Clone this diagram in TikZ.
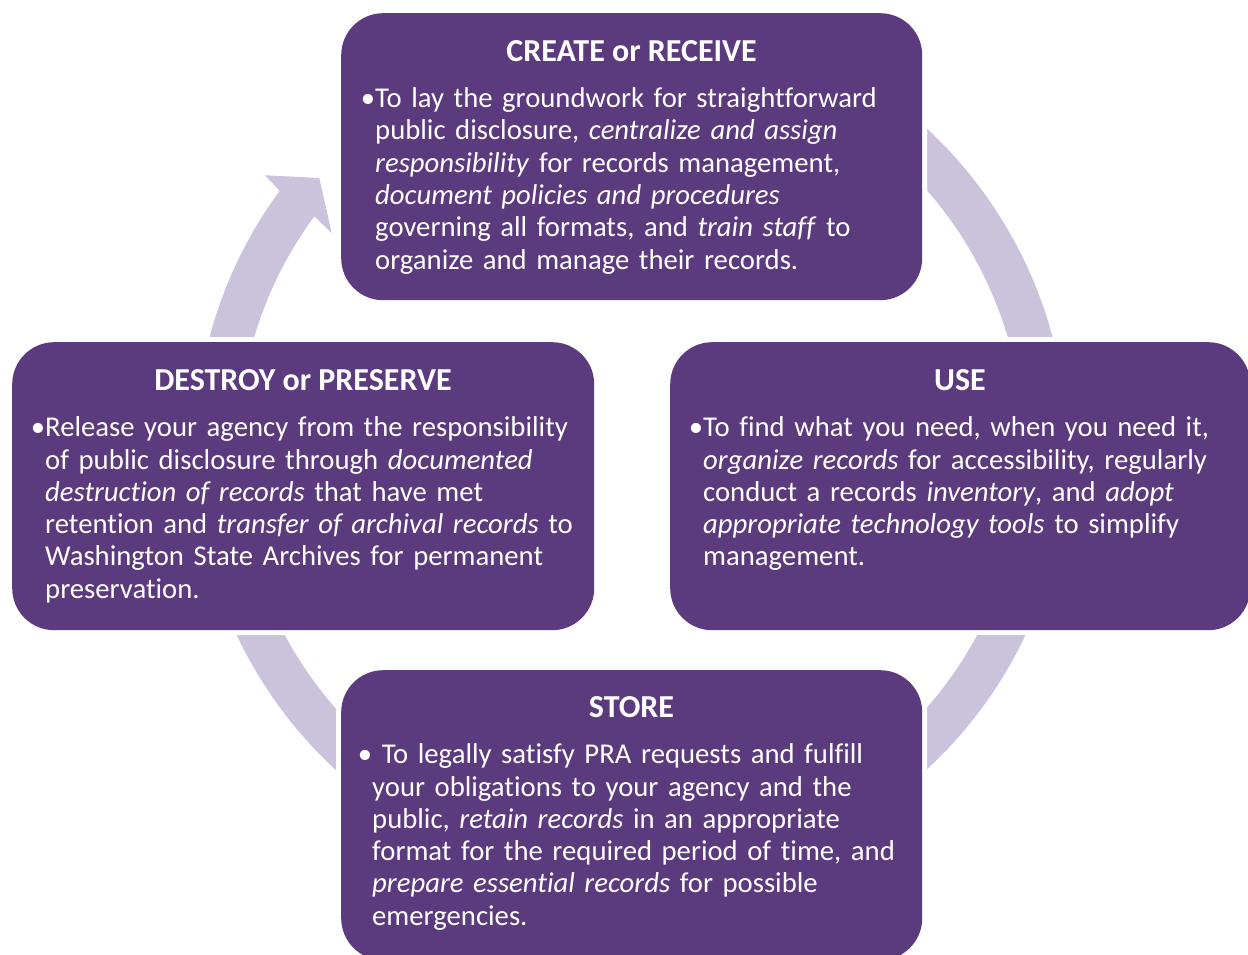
\documentclass[tikz,border=0pt]{standalone}
\usepackage{fontspec}
\setmainfont{Carlito}[Ligatures=NoCommon]
\usetikzlibrary{calc}
\definecolor{boxpurple}{HTML}{5B3A7D}
\definecolor{ringlilac}{HTML}{CBC2DC}
\newcommand\cyclefont{\fontsize{28.7pt}{32.3pt}\selectfont}
\newcommand\headfont{\fontsize{32pt}{36pt}\selectfont\bfseries}
\newcommand\firstline{\rule{0pt}{23pt}}
\tikzset{
  stagebox/.style={rounded corners=42pt, fill=boxpurple, inner sep=0pt,
    anchor=north west, preaction={draw=white, line width=10pt}},
  stagetitle/.style={text=white, font=\headfont, anchor=base, inner sep=0pt},
  stagetext/.style={text=white, font=\cyclefont, anchor=north west, inner sep=0pt,
    text width=600pt, align=left},
}
\begin{document}
\begin{tikzpicture}[x=1pt, y=-1pt]
\useasboundingbox (0,0) rectangle (1248,955);
\fill[white] (0,0) rectangle (1248,955);

% circular arrow behind the four stages
\coordinate (c) at (631,449);
\fill[ringlilac] ($(c)+(-125:436)$) arc[start angle=-125, end angle=216.3, radius=436]
  -- ($(c)+(216.8:457)$) -- ($(c)+(221:413)$) -- ($(c)+(215.8:369)$)
  -- ($(c)+(216.3:393)$) arc[start angle=216.3, end angle=-125, radius=393] -- cycle;

% stage boxes
\node[stagebox, minimum width=581pt, minimum height=287pt] (create) at (341,13) {};
\node[stagebox, minimum width=582pt, minimum height=288pt] (destroy) at (12,342) {};
\node[stagebox, minimum width=580pt, minimum height=288pt] (use) at (670,342) {};
\node[stagebox, minimum width=581pt, minimum height=290pt] (store) at (341,670) {};

% CREATE or RECEIVE
\node[stagetitle] (create-title) at (631.5,61.5) {CREATE or RECEIVE};
\node[stagetext] (create-text) at (375,84.5) {\noindent\firstline\llap{•}To lay the groundwork for straightforward\\
public disclosure, \textit{centralize and assign}\\
\textit{responsibility} for records management,\\
\textit{document policies and procedures}\\
governing all formats, and \textit{train staff} to\\
organize and manage their records.};

% DESTROY or PRESERVE
\node[stagetitle] (destroy-title) at (303,390) {DESTROY or PRESERVE};
\node[stagetext] (destroy-text) at (45,413.5) {\noindent\firstline\llap{•}Release your agency from the responsibility\\
of public disclosure through \textit{documented}\\
\textit{destruction of records} that have met\\
retention and \textit{transfer of archival records} to\\
Washington State Archives for permanent\\
preservation.};

% USE
\node[stagetitle] (use-title) at (960,390) {USE};
\node[stagetext] (use-text) at (703,413.5) {\noindent\firstline\llap{•}To find what you need, when you need it,\\
\textit{organize records} for accessibility, regularly\\
conduct a records \textit{inventory}, and \textit{adopt}\\
\textit{appropriate technology tools} to simplify\\
management.};

% STORE
\node[stagetitle] (store-title) at (631.5,717) {STORE};
\node[stagetext] (store-text) at (372,740.5) {\noindent\firstline\llap{•} To legally satisfy PRA requests and fulfill\\
your obligations to your agency and the\\
public, \textit{retain records} in an appropriate\\
format for the required period of time, and\\
\textit{prepare essential records} for possible\\
emergencies.};
\end{tikzpicture}
\end{document}
